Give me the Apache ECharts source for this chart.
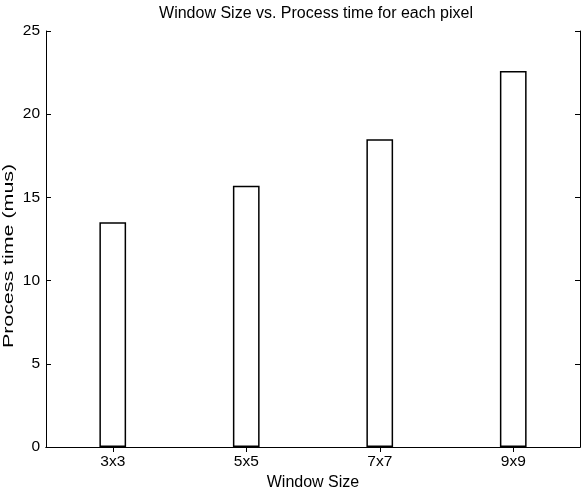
<!DOCTYPE html>
<html><head><meta charset="utf-8">
<script src="https://cdn.jsdelivr.net/npm/echarts@6/dist/echarts.min.js"></script>
<style>html,body{margin:0;padding:0;background:#fff}#c{width:582px;height:494px}</style>
</head><body><div id="c"></div>
<script>
const categories = ['3x3', '5x5', '7x7', '9x9'];
const processTime = [13.5, 15.7, 18.5, 22.6];
const yTicks = [0, 5, 10, 15, 20, 25];

const chart = echarts.init(document.getElementById('c'), null, {renderer: 'canvas'});
const font = 'Liberation Sans, Arial, sans-serif';
const lineStyle = {color: '#000', width: 1};
chart.setOption({
  animation: false,
  backgroundColor: '#fff',
  title: {text: 'Window Size vs. Process time for each pixel', left: 311, top: 1, textAlign: 'center',
    textStyle: {fontFamily: font, fontSize: 16, fontWeight: 'normal', color: '#000'}},
  grid: {left: 46, right: 2, top: 31, bottom: 47, containLabel: false, outerBoundsMode: 'none', show: false},
  xAxis: [
    {type: 'category', data: categories, boundaryGap: true, position: 'bottom',
     axisLine: {show: true, lineStyle}, axisTick: {show: true, inside: true, alignWithLabel: true, length: 5, lineStyle},
     axisLabel: {color: '#000', fontFamily: font, fontSize: 15.5, margin: 7},
     name: 'Window Size', nameLocation: 'middle', nameGap: 27,
     nameTextStyle: {color: '#000', fontFamily: font, fontSize: 16}},
    {type: 'category', data: categories, boundaryGap: true, position: 'top',
     axisLine: {show: true, lineStyle}, axisTick: {show: true, inside: true, alignWithLabel: true, length: 5, lineStyle},
     axisLabel: {show: false}}
  ],
  yAxis: [
    {type: 'value', min: yTicks[0], max: yTicks[yTicks.length-1], interval: 5, position: 'left',
     axisLine: {show: true, lineStyle}, axisTick: {show: true, inside: true, length: 5, lineStyle},
     splitLine: {show: false},
     axisLabel: {color: '#000', fontFamily: font, fontSize: 15.5, margin: 6}},
    {type: 'value', min: yTicks[0], max: yTicks[yTicks.length-1], interval: 5, position: 'right',
     axisLine: {show: true, lineStyle}, axisTick: {show: true, inside: true, length: 5, lineStyle},
     splitLine: {show: false}, axisLabel: {show: false}}
  ],
  graphic: [{
    type: 'text', x: 9, y: 256, rotation: Math.PI / 2, scaleX: 1.38, scaleY: 1,
    style: {text: 'Process time (mus)', fill: '#000', font: '15.5px ' + font, align: 'center', verticalAlign: 'middle'}
  }],
  series: [{
    type: 'bar', data: processTime, xAxisIndex: 0, yAxisIndex: 0, barWidth: '20%',
    itemStyle: {color: '#fff', borderColor: '#000', borderWidth: 1.5}
  }]
});
</script></body></html>
